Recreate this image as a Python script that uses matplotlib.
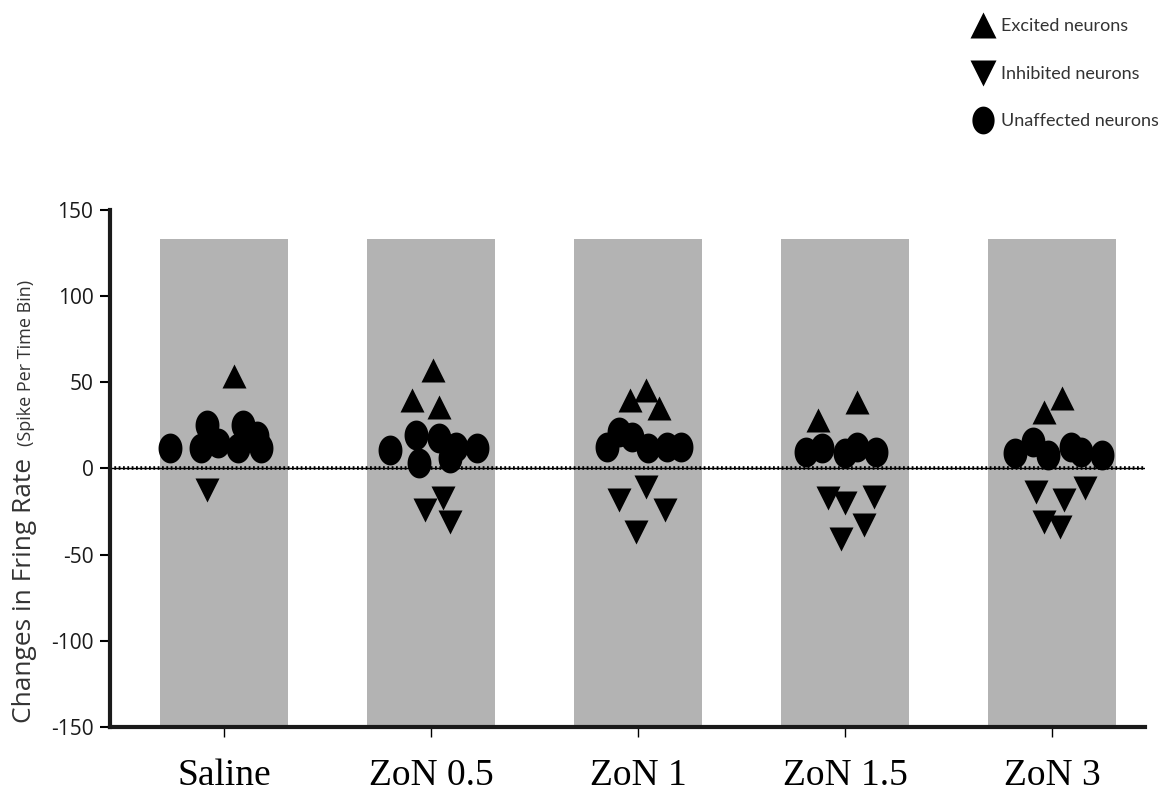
import matplotlib.pyplot as plt
import numpy as np
from matplotlib.path import Path
from matplotlib.lines import Line2D

plt.rcParams['axes.unicode_minus'] = False

groups = ['Saline', 'ZoN 0.5', 'ZoN 1', 'ZoN 1.5', 'ZoN 3']
bar_top = 133
bar_bottom = -150

# x offsets (within a group) and values for each kind of neuron
excited_off = [[0.05], [0.01, -0.09, 0.04], [-0.04, 0.04, 0.10], [0.06, -0.13], [0.05, -0.04]]
excited_val = [[53.5], [57, 39.7, 35.9], [39.7, 45.5, 34.9], [38.8, 28.1], [40.7, 33]]

inhibited_off = [[-0.08], [-0.03, 0.06, 0.09], [0.04, -0.09, 0.13, -0.01],
                 [-0.08, 0.0, 0.14, 0.09, -0.02], [-0.08, 0.06, 0.16, -0.04, 0.04]]
inhibited_val = [[-12.6], [-24, -17.4, -31], [-10.7, -18.4, -24.2, -36.8],
                 [-17.4, -20.3, -16.5, -33, -40.7], [-13.6, -18.4, -11.6, -31, -34]]

unaff_off = [[-0.26, -0.11, -0.08, -0.03, 0.07, 0.09, 0.16, 0.18],
             [-0.20, -0.07, -0.06, 0.04, 0.09, 0.12, 0.22],
             [-0.15, -0.09, -0.03, 0.05, 0.14, 0.21],
             [-0.19, -0.11, 0.0, 0.06, 0.15],
             [-0.18, -0.09, -0.02, 0.09, 0.14, 0.24]]
unaff_val = [[12, 11.6, 25, 14.5, 11.6, 25, 18.6, 11.6],
             [10.7, 19.4, 2.9, 17.4, 5.8, 12.6, 11.6],
             [12.6, 21.3, 18.4, 11.6, 12.6, 12.6],
             [9.7, 11.6, 8.7, 12.6, 9.7],
             [8.7, 15.5, 7.8, 12.6, 9.7, 7.8]]

# slightly tall ellipse for the "circle" markers
th = np.linspace(0, 2*np.pi, 64)
ell = Path(np.column_stack([0.8*np.cos(th), np.sin(th)]), closed=True)

fig = plt.figure(figsize=(11.71, 7.98), dpi=100)
ax = fig.add_axes([0.094, 0.089, 0.884, 0.648])

xpos = np.arange(len(groups))
ax.bar(xpos, bar_top - bar_bottom, bottom=bar_bottom, width=0.62, color='#b3b3b3', zorder=1)

ax.axhline(0, color='black', lw=1.0, zorder=2)
ax.axhline(0, color='black', lw=2.6, linestyle=(0, (0.5, 0.7)), zorder=2)

for i in range(len(groups)):
    ax.plot(i + np.array(unaff_off[i]), unaff_val[i], linestyle='none', marker=ell,
            ms=21.5, color='black', mec='none', zorder=3)
    ax.plot(i + np.array(excited_off[i]), excited_val[i], linestyle='none', marker='^',
            ms=17.5, color='black', mec='none', zorder=3)
    ax.plot(i + np.array(inhibited_off[i]), inhibited_val[i], linestyle='none', marker='v',
            ms=17.5, color='black', mec='none', zorder=3)

ax.set_xlim(-0.55, 4.45)
ax.set_ylim(-150, 150)
ax.set_yticks([-150, -100, -50, 0, 50, 100, 150])
ax.set_xticks(xpos)
ax.set_xticklabels(groups, family='Liberation Serif', fontsize=27)

for s in ['top', 'right']:
    ax.spines[s].set_visible(False)
for s in ['left', 'bottom']:
    ax.spines[s].set_linewidth(3)
    ax.spines[s].set_color('#1a1a1a')

ax.tick_params(axis='y', length=7, width=1.5, labelsize=15, pad=5)
ax.tick_params(axis='x', length=7, width=1, pad=16)
for lab in ax.get_yticklabels():
    lab.set_family('Open Sans')
    lab.set_color('#1a1a1a')

fig.text(31/1171, 1 - 723/798, 'Changes in Fring Rate', rotation=90, rotation_mode='anchor',
         ha='left', va='baseline', family='Open Sans', fontsize=19, color='#333333')
fig.text(31/1171, 1 - 446/798, '(Spike Per Time Bin)', rotation=90, rotation_mode='anchor',
         ha='left', va='baseline', family='Open Sans', fontsize=13, color='#333333')

handles = [
    Line2D([], [], linestyle='none', marker='^', ms=19, color='black', mec='none'),
    Line2D([], [], linestyle='none', marker='v', ms=19, color='black', mec='none'),
    Line2D([], [], linestyle='none', marker=ell, ms=20, color='black', mec='none'),
]
leg = fig.legend(handles, ['Excited neurons', 'Inhibited neurons', 'Unaffected neurons'],
                 loc='upper left', bbox_to_anchor=(956/1171, 1 - 2/798), frameon=False,
                 prop={'family': 'Lato', 'size': 13}, labelspacing=1.75,
                 handlelength=1.2, handletextpad=0.4, labelcolor='#333333')

fig.savefig('out.png', dpi=100)
